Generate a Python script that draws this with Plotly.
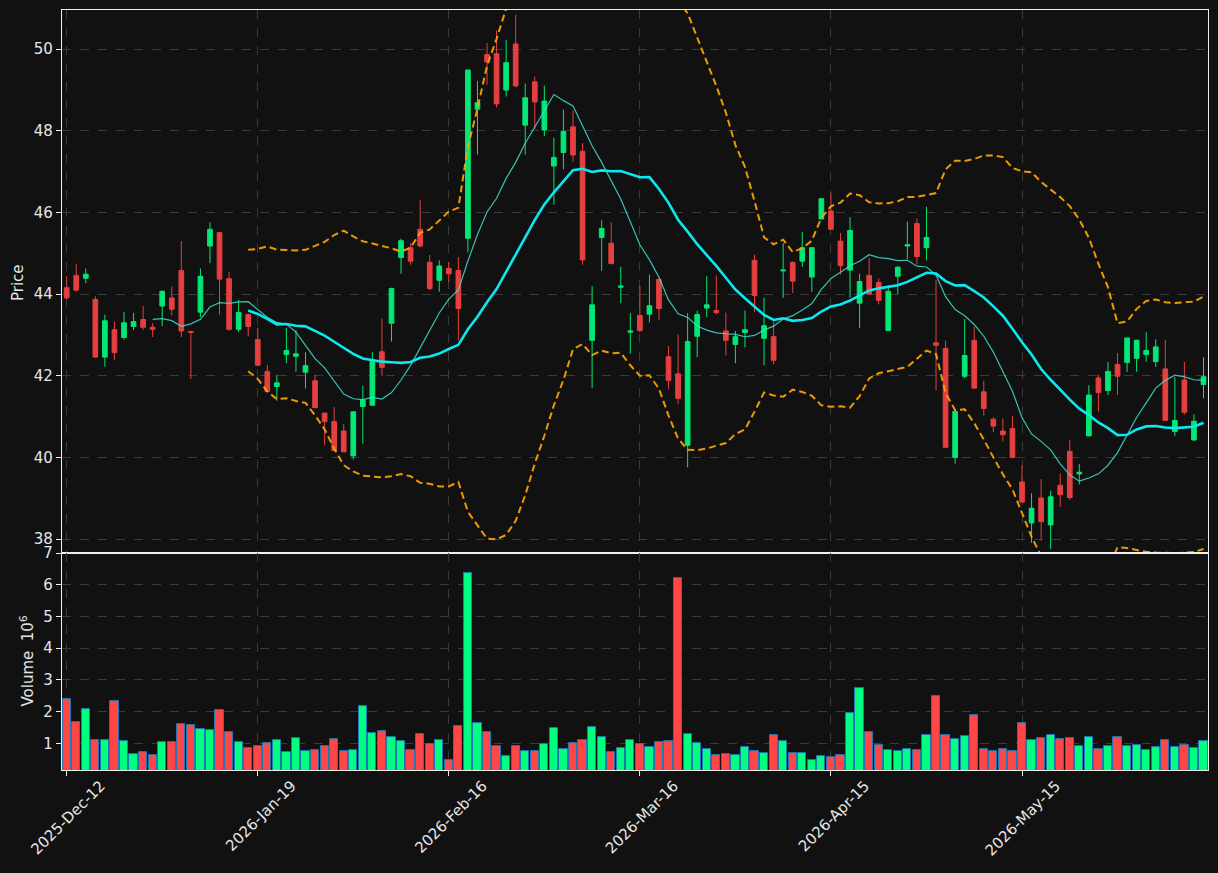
import pandas as pd
import plotly.graph_objects as go

# ---------------- data ----------------
tick_labels = ["2025-Dec-12", "2026-Jan-19", "2026-Feb-16",
               "2026-Mar-16", "2026-Apr-15", "2026-May-15"]
tick_bar_index = [0, 20, 40, 60, 80, 100]

opens = [44.16, 44.46, 44.39, 43.87, 42.46, 43.13, 42.94, 43.21, 43.38, 43.19,
         43.71, 43.91, 44.58, 43.09, 43.56, 45.18, 45.51, 44.38, 43.14, 43.50,
         42.89, 42.11, 41.74, 42.52, 42.48, 42.09, 41.88, 41.09, 40.88, 40.65,
         40.04, 41.25, 41.28, 42.59, 43.29, 44.90, 45.14, 45.59, 44.78, 44.34,
         44.63, 44.58, 45.37, 48.53, 49.87, 49.89, 49.00, 50.13, 48.14, 49.20,
         48.02, 47.14, 47.47, 48.10, 47.50, 42.87, 45.39, 45.25, 44.17, 43.07,
         43.48, 43.51, 44.36, 42.47, 42.05, 40.30, 42.97, 43.66, 43.60, 43.10,
         42.77, 43.06, 44.83, 42.92, 42.96, 44.57, 44.78, 44.81, 44.42, 45.84,
         46.04, 45.30, 44.59, 43.78, 44.46, 44.29, 43.11, 44.44, 45.18, 45.73,
         45.14, 42.81, 42.67, 40.00, 41.99, 42.87, 41.61, 40.94, 40.65, 40.71,
         39.40, 38.40, 39.01, 38.35, 39.32, 40.15, 39.60, 40.53, 41.95, 41.64,
         42.28, 42.33, 42.43, 42.52, 42.35, 42.17, 40.64, 41.90, 40.43, 41.79]
highs = [44.44, 44.74, 44.63, 43.95, 43.50, 43.33, 43.57, 43.54, 43.71, 43.29,
         44.09, 44.19, 45.30, 43.09, 44.63, 45.76, 45.53, 44.55, 43.86, 43.53,
         43.18, 42.27, 42.03, 43.18, 43.12, 42.58, 42.03, 41.09, 41.24, 40.82,
         41.13, 41.76, 42.59, 43.40, 44.16, 45.36, 45.25, 46.31, 44.96, 44.83,
         44.79, 44.91, 49.49, 49.22, 50.15, 50.46, 50.22, 50.84, 49.16, 49.33,
         49.11, 47.83, 48.52, 48.50, 47.70, 44.20, 45.81, 45.76, 44.67, 43.54,
         44.20, 44.48, 44.40, 42.73, 43.01, 43.54, 43.60, 44.44, 44.46, 43.55,
         43.10, 43.60, 44.97, 43.91, 43.33, 45.25, 44.80, 45.53, 45.14, 46.34,
         46.49, 45.50, 45.89, 44.50, 44.89, 44.38, 44.22, 44.69, 45.78, 45.86,
         46.14, 44.35, 42.86, 41.13, 43.39, 43.20, 41.88, 40.99, 40.96, 41.02,
         39.81, 39.13, 39.47, 39.19, 39.61, 40.43, 39.84, 41.77, 42.03, 42.34,
         42.56, 42.93, 42.89, 43.07, 42.90, 42.88, 41.97, 42.34, 41.06, 42.46]
lows = [43.88, 44.06, 44.27, 42.45, 42.22, 42.39, 42.88, 43.12, 43.12, 42.95,
        43.22, 43.48, 42.95, 41.92, 43.44, 44.76, 43.50, 43.11, 43.07, 42.97,
        42.24, 41.61, 41.39, 42.31, 42.10, 41.69, 41.22, 40.30, 40.17, 40.14,
        39.95, 40.34, 41.28, 41.99, 42.84, 44.50, 44.72, 45.15, 44.10, 44.06,
        44.30, 42.88, 45.02, 47.42, 49.13, 48.57, 48.84, 49.07, 47.42, 48.05,
        47.87, 46.19, 47.06, 47.24, 44.72, 41.70, 44.57, 44.73, 43.78, 42.54,
        43.07, 43.31, 43.37, 41.67, 41.30, 39.76, 42.46, 43.44, 43.50, 42.50,
        42.31, 42.70, 43.56, 42.26, 42.28, 43.91, 44.03, 44.67, 44.06, 45.84,
        45.59, 44.48, 43.91, 43.17, 44.00, 43.75, 43.11, 44.01, 44.86, 44.73,
        44.83, 41.64, 40.25, 39.85, 41.94, 41.70, 41.02, 40.62, 40.39, 40.00,
        38.91, 37.91, 37.97, 37.76, 38.79, 38.96, 39.34, 40.53, 41.13, 41.53,
        41.53, 42.10, 42.10, 42.35, 42.22, 40.91, 40.53, 41.05, 40.41, 41.45]
closes = [43.91, 44.10, 44.49, 42.46, 43.35, 42.57, 43.30, 43.33, 43.19, 43.14,
          44.07, 43.63, 43.10, 43.07, 44.44, 45.59, 44.37, 43.14, 43.55, 43.21,
          42.26, 41.62, 41.83, 42.62, 42.54, 42.25, 41.22, 40.88, 40.17, 40.14,
          41.12, 41.41, 42.39, 42.21, 44.14, 45.31, 44.81, 45.18, 44.14, 44.69,
          44.50, 43.65, 49.49, 48.69, 49.69, 48.66, 49.67, 49.10, 48.81, 48.71,
          48.73, 47.35, 47.99, 47.41, 44.84, 43.74, 45.61, 44.75, 44.20, 43.10,
          43.11, 43.72, 43.65, 41.89, 41.45, 42.84, 43.50, 43.74, 43.55, 42.87,
          42.96, 43.13, 43.97, 43.23, 42.38, 44.59, 44.32, 45.14, 45.14, 46.34,
          45.59, 44.70, 45.56, 44.31, 44.00, 43.85, 44.07, 44.66, 45.21, 44.92,
          45.39, 42.75, 40.25, 41.13, 42.50, 41.70, 41.20, 40.77, 40.56, 40.00,
          38.91, 38.76, 38.43, 39.04, 39.09, 39.02, 39.64, 41.53, 41.59, 42.11,
          41.99, 42.93, 42.87, 42.62, 42.71, 40.91, 40.91, 41.11, 40.89, 41.98]
volumes_millions = [2.39, 1.66, 2.09, 1.09, 1.09, 2.33, 1.06, 0.65, 0.72, 0.62,
                    1.03, 1.03, 1.60, 1.57, 1.44, 1.41, 2.04, 1.35, 1.03, 0.84,
                    0.91, 1.00, 1.09, 0.72, 1.16, 0.75, 0.78, 0.91, 1.13, 0.75,
                    0.78, 2.17, 1.32, 1.38, 1.19, 1.06, 0.78, 1.28, 0.97, 1.09,
                    0.46, 1.54, 6.37, 1.63, 1.35, 0.91, 0.59, 0.91, 0.75, 0.75,
                    0.97, 1.47, 0.81, 1.00, 1.09, 1.51, 1.19, 0.72, 0.84, 1.09,
                    0.97, 0.87, 1.03, 1.06, 6.21, 1.28, 1.00, 0.81, 0.62, 0.65,
                    0.62, 0.87, 0.75, 0.68, 1.25, 1.06, 0.68, 0.68, 0.46, 0.59,
                    0.56, 0.62, 1.95, 2.74, 1.35, 0.94, 0.78, 0.75, 0.81, 0.78,
                    1.25, 2.48, 1.25, 1.13, 1.22, 1.88, 0.81, 0.75, 0.81, 0.75,
                    1.63, 1.09, 1.16, 1.25, 1.13, 1.16, 0.91, 1.19, 0.81, 0.91,
                    1.19, 0.91, 0.94, 0.78, 0.87, 1.09, 0.87, 0.94, 0.84, 1.06]

# ---------------- derived indicators ----------------
bars = list(range(len(closes)))
cs = pd.Series(closes)
ma10 = cs.rolling(10).mean()
ma20 = cs.rolling(20).mean()
sd20 = cs.rolling(20).std()
bb_up = ma20 + 2 * sd20
bb_lo = ma20 - 2 * sd20

UP_C = "#02e775"
DN_C = "#e63f3f"
VUP = "#00ff80"
VDN = "#ff4646"
vol_colors = [VUP if c >= o else VDN for o, c in zip(opens, closes)]

BG = "#111111"
GRID = "#3a3a3a"
TXT = "#e6e6e6"
SPINE = "#f0f0f0"
FONT = "DejaVu Sans"

fig = go.Figure()

fig.add_trace(go.Candlestick(
    x=bars, open=opens, high=highs, low=lows, close=closes,
    increasing=dict(line=dict(color=UP_C, width=1), fillcolor=UP_C),
    decreasing=dict(line=dict(color=DN_C, width=1), fillcolor=DN_C),
    xaxis="x", yaxis="y", showlegend=False))

fig.add_trace(go.Scatter(x=bars, y=ma10, mode="lines",
                         line=dict(color="rgba(64,224,208,0.85)", width=1.2),
                         xaxis="x", yaxis="y", showlegend=False))
fig.add_trace(go.Scatter(x=bars, y=ma20, mode="lines",
                         line=dict(color="#0ae8f0", width=2.6),
                         xaxis="x", yaxis="y", showlegend=False))
for band in (bb_up, bb_lo):
    fig.add_trace(go.Scatter(x=bars, y=band, mode="lines",
                             line=dict(color="rgba(255,165,0,0.92)", width=2, dash="7px,4px"),
                             xaxis="x", yaxis="y", showlegend=False))

fig.add_trace(go.Bar(x=bars, y=volumes_millions, width=0.86,
                     marker=dict(color=vol_colors, line=dict(color="#1f77b4", width=1)),
                     xaxis="x2", yaxis="y2", showlegend=False))

split = 0.2854
xcommon = dict(range=[-0.49, 119.47], showline=True, mirror=True, linecolor=SPINE,
               linewidth=1.3, showgrid=True, gridcolor=GRID, griddash="dash", gridwidth=1,
               tickmode="array", tickvals=tick_bar_index, zeroline=False, automargin=False)
ycommon = dict(showline=True, mirror=True, linecolor=SPINE, linewidth=1.3,
               ticks="outside", ticklen=5, tickcolor=SPINE,
               showgrid=True, gridcolor=GRID, griddash="dash", zeroline=False,
               automargin=False, tickfont=dict(family=FONT, size=15, color=TXT))

fig.update_layout(
    width=1218, height=873,
    paper_bgcolor=BG, plot_bgcolor=BG,
    margin=dict(l=62, r=10, t=10, b=103, autoexpand=False),
    font=dict(family=FONT, size=15, color=TXT),
    boxgap=0.3, boxgroupgap=0.3,
    bargap=0,
    showlegend=False,
    xaxis=dict(xcommon, anchor="y", domain=[0, 1], showticklabels=False, ticks="",
               rangeslider=dict(visible=False), matches="x2"),
    xaxis2=dict(xcommon, anchor="y2", domain=[0, 1], ticktext=tick_labels,
                ticks="outside", ticklen=5, tickcolor=SPINE, tickangle=-45,
                ticklabelshift=34, ticklabelstandoff=-5,
                tickfont=dict(family=FONT, size=15, color=TXT)),
    yaxis=dict(ycommon, domain=[split, 1], range=[37.66, 50.96],
               tickvals=[38, 40, 42, 44, 46, 48, 50]),
    yaxis2=dict(ycommon, domain=[0, split], range=[0.16, 7.001],
                tickvals=[1, 2, 3, 4, 5, 6, 7]),
    annotations=[
        dict(text="Price", xref="paper", yref="paper", x=-0.0384, y=0.642,
             textangle=-90, showarrow=False, xanchor="center", yanchor="middle",
             font=dict(family=FONT, size=15, color=TXT)),
        dict(text="Volume  10<sup>6</sup>", xref="paper", yref="paper", x=-0.0305, y=0.1428,
             textangle=-90, showarrow=False, xanchor="center", yanchor="middle",
             font=dict(family=FONT, size=15, color=TXT)),
    ],
)

fig.write_html("out.html")
